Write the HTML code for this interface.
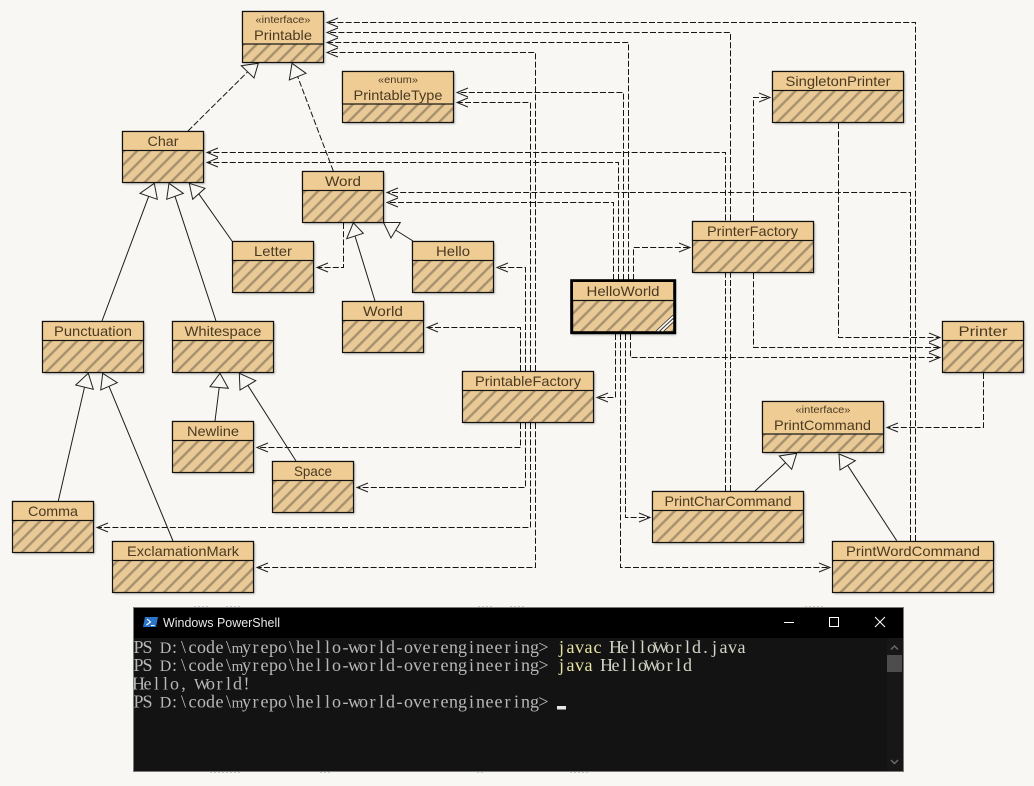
<!DOCTYPE html>
<html><head><meta charset="utf-8"><style>
html,body{margin:0;padding:0;background:#f8f7f3;width:1034px;height:786px;overflow:hidden}
svg{display:block;position:absolute;left:0;top:0}
.d{fill:none;stroke:#151515;stroke-width:1;stroke-dasharray:6 2.2}
.a{fill:none;stroke:#222;stroke-width:1}
.s{fill:none;stroke:#1c1c1c;stroke-width:1}
.t{fill:#f8f7f3;stroke:#222;stroke-width:1}
.b{fill:url(#h);stroke:#111;stroke-width:1.2}
.hd{fill:#efcc94;stroke:#111;stroke-width:1.2}
.l{font:14px "Liberation Sans",sans-serif;fill:#4a3a22;text-anchor:middle}
.st{font:10px "Liberation Sans",sans-serif;fill:#4a3a22;text-anchor:middle}
.sh{fill:#000;opacity:.28;filter:url(#bl)}
.c{font:18px "Liberation Serif",serif;fill:#b8b8b8;text-anchor:middle}
.n{font-size:16px}
.m{font-size:15px}
</style></head><body>
<svg width="1034" height="786" viewBox="0 0 1034 786" xmlns="http://www.w3.org/2000/svg">
<defs>
<pattern id="h" width="9.2" height="9.2" patternUnits="userSpaceOnUse" patternTransform="rotate(45)">
<rect width="9.2" height="9.2" fill="#e9ca97"/><rect x="0" width="2.5" height="9.2" fill="#a8926f"/>
</pattern>
<filter id="bl" x="-10%" y="-10%" width="120%" height="120%"><feGaussianBlur stdDeviation="1"/></filter>
</defs>
<rect width="1034" height="786" fill="#f8f7f3"/>

<path class="d" d="M915.5 541V22.5H328M730.5 491V32.5H328M628.5 280V42.5H328M535.5 371V52.5H328M623.5 280V92.5H458M530.5 371V102.5H458M910.5 541V192.5H388M613.5 280V202.5H388M725.5 491V152.5H208M618.5 280V162.5H208M633.5 280V247.5H689M525.5 371V267.5H498M520.5 371V327.5H428M520.5 423V447.5H258M525.5 423V487.5H358M530.5 423V527.5H98M535.5 423V567.5H258M615.5 334V397.5H598M620.5 334V567.5H829M625.5 334V517.5H649M630.5 334V357.5H939M838.5 123V337.5H939M753.5 273V347.5H939M753.5 221V97.5H769M983.5 373V427.5H888M343.5 223V267.5H318"/>
<path class="d" d="M188 131L247.7 71.8M333.3 171L297.7 76.7"/>
<path class="s" d="M102 321L148.7 196.3M216 321L175 196.3M232 241L198.8 193.8M58.3 501L84.5 387.2M173 541L109 386.3M215 421L219.2 387.5M296 461L247.8 385.3M755 491L785.5 462.7M896.7 540.7L847.6 465.3M413 241L395.5 230M375 301L355 236"/>

<path class="a" d="M338 18L327 22.5L338 27M338 28L327 32.5L338 37M338 38L327 42.5L338 47M338 48L327 52.5L338 57M468 88L457 92.5L468 97M468 98L457 102.5L468 107M398 188L387 192.5L398 197M398 198L387 202.5L398 207M218 148L207 152.5L218 157M218 158L207 162.5L218 167M508 263L497 267.5L508 272M438 323L427 327.5L438 332M328 263L317 267.5L328 272M268 443L257 447.5L268 452M368 483L357 487.5L368 492M108 523L97 527.5L108 532M268 563L257 567.5L268 572M608 393L597 397.5L608 402M898 423L887 427.5L898 432"/>
<path class="a" d="M679 243L690 247.5L679 252M759 93L770 97.5L759 102M639 513L650 517.5L639 522M819 563L830 567.5L819 572M929 333L940 337.5L929 342M929 343L940 347.5L929 352M929 353L940 357.5L929 362"/>

<polygon class="t" points="258.3,63.3 241.3,65.7 254,78"/>
<polygon class="t" points="292,63.3 306,73.3 289.3,80"/>
<polygon class="t" points="154.3,183.3 140,193.3 157.3,199.3"/>
<polygon class="t" points="169,183.3 166.7,199.3 183.3,193.3"/>
<polygon class="t" points="189.3,183.3 192.7,199.3 205,188.3"/>
<polygon class="t" points="88.3,373.3 75.7,385 93.3,389.3"/>
<polygon class="t" points="102.7,373.3 100.7,390 117.3,382.7"/>
<polygon class="t" points="220,373.3 210,386.7 228.3,388.3"/>
<polygon class="t" points="239.3,373.3 240,390 255.7,380.7"/>
<polygon class="t" points="383.5,222.5 400.3,222.5 391,238"/>
<polygon class="t" points="353.3,222.8 363.3,233.3 346.7,238.7"/>
<polygon class="t" points="796.7,453.3 779.3,456 791.7,469.3"/>
<polygon class="t" points="839,454 855.3,460.7 840,470"/>

<!-- boxes -->
<rect class="sh" x="244" y="13" width="81" height="51"/><rect class="b" x="242.5" y="11.5" width="81" height="51"/><rect class="hd" x="242.5" y="11.5" width="81" height="32.5"/>
<text class="st" x="283" y="23" textLength="55" lengthAdjust="spacingAndGlyphs">«interface»</text><text class="l" x="283" y="40" textLength="58" lengthAdjust="spacingAndGlyphs">Printable</text>

<rect class="sh" x="344" y="73" width="111" height="51"/><rect class="b" x="342.5" y="71.5" width="111" height="51"/><rect class="hd" x="342.5" y="71.5" width="111" height="32.5"/>
<text class="st" x="398" y="83" textLength="40" lengthAdjust="spacingAndGlyphs">«enum»</text><text class="l" x="398" y="100" textLength="89" lengthAdjust="spacingAndGlyphs">PrintableType</text>

<rect class="sh" x="774" y="73" width="131" height="51"/><rect class="b" x="772.5" y="71.5" width="131" height="51"/><rect class="hd" x="772.5" y="71.5" width="131" height="19"/>
<text class="l" x="838" y="86" textLength="105" lengthAdjust="spacingAndGlyphs">SingletonPrinter</text>

<rect class="sh" x="124" y="133" width="81" height="51"/><rect class="b" x="122.5" y="131.5" width="81" height="51"/><rect class="hd" x="122.5" y="131.5" width="81" height="19"/>
<text class="l" x="163" y="146" textLength="31" lengthAdjust="spacingAndGlyphs">Char</text>

<rect class="sh" x="304" y="173" width="81" height="51"/><rect class="b" x="302.5" y="171.5" width="81" height="51"/><rect class="hd" x="302.5" y="171.5" width="81" height="19"/>
<text class="l" x="343" y="186" textLength="36" lengthAdjust="spacingAndGlyphs">Word</text>

<rect class="sh" x="234" y="243" width="81" height="51"/><rect class="b" x="232.5" y="241.5" width="81" height="51"/><rect class="hd" x="232.5" y="241.5" width="81" height="19"/>
<text class="l" x="273" y="256" textLength="38" lengthAdjust="spacingAndGlyphs">Letter</text>

<rect class="sh" x="414" y="243" width="81" height="51"/><rect class="b" x="412.5" y="241.5" width="81" height="51"/><rect class="hd" x="412.5" y="241.5" width="81" height="19"/>
<text class="l" x="453" y="256" textLength="34" lengthAdjust="spacingAndGlyphs">Hello</text>

<rect class="sh" x="344" y="303" width="81" height="51"/><rect class="b" x="342.5" y="301.5" width="81" height="51"/><rect class="hd" x="342.5" y="301.5" width="81" height="19"/>
<text class="l" x="383" y="316" textLength="40" lengthAdjust="spacingAndGlyphs">World</text>

<rect class="sh" x="44" y="323" width="101" height="51"/><rect class="b" x="42.5" y="321.5" width="101" height="51"/><rect class="hd" x="42.5" y="321.5" width="101" height="19"/>
<text class="l" x="93" y="336" textLength="78" lengthAdjust="spacingAndGlyphs">Punctuation</text>

<rect class="sh" x="174" y="323" width="101" height="51"/><rect class="b" x="172.5" y="321.5" width="101" height="51"/><rect class="hd" x="172.5" y="321.5" width="101" height="19"/>
<text class="l" x="223" y="336" textLength="77" lengthAdjust="spacingAndGlyphs">Whitespace</text>

<rect class="sh" x="174" y="423" width="81" height="51"/><rect class="b" x="172.5" y="421.5" width="81" height="51"/><rect class="hd" x="172.5" y="421.5" width="81" height="19"/>
<text class="l" x="213" y="436" textLength="52" lengthAdjust="spacingAndGlyphs">Newline</text>

<rect class="sh" x="274" y="463" width="81" height="51"/><rect class="b" x="272.5" y="461.5" width="81" height="51"/><rect class="hd" x="272.5" y="461.5" width="81" height="19"/>
<text class="l" x="313" y="476" textLength="38" lengthAdjust="spacingAndGlyphs">Space</text>

<rect class="sh" x="14" y="503" width="81" height="51"/><rect class="b" x="12.5" y="501.5" width="81" height="51"/><rect class="hd" x="12.5" y="501.5" width="81" height="19"/>
<text class="l" x="53" y="516" textLength="50" lengthAdjust="spacingAndGlyphs">Comma</text>

<rect class="sh" x="114" y="543" width="141" height="51"/><rect class="b" x="112.5" y="541.5" width="141" height="51"/><rect class="hd" x="112.5" y="541.5" width="141" height="19"/>
<text class="l" x="183" y="556" textLength="112" lengthAdjust="spacingAndGlyphs">ExclamationMark</text>

<rect class="sh" x="464" y="373" width="131" height="51"/><rect class="b" x="462.5" y="371.5" width="131" height="51"/><rect class="hd" x="462.5" y="371.5" width="131" height="19"/>
<text class="l" x="528" y="386" textLength="106" lengthAdjust="spacingAndGlyphs">PrintableFactory</text>

<rect class="sh" x="694" y="223" width="121" height="51"/><rect class="b" x="692.5" y="221.5" width="121" height="51"/><rect class="hd" x="692.5" y="221.5" width="121" height="19"/>
<text class="l" x="752.5" y="236" textLength="91" lengthAdjust="spacingAndGlyphs">PrinterFactory</text>

<rect class="sh" x="944" y="323" width="81" height="51"/><rect class="b" x="942.5" y="321.5" width="81" height="51"/><rect class="hd" x="942.5" y="321.5" width="81" height="19"/>
<text class="l" x="983" y="336" textLength="49" lengthAdjust="spacingAndGlyphs">Printer</text>

<rect class="sh" x="764" y="403" width="121" height="51"/><rect class="b" x="762.5" y="401.5" width="121" height="51"/><rect class="hd" x="762.5" y="401.5" width="121" height="32.5"/>
<text class="st" x="823" y="413" textLength="55" lengthAdjust="spacingAndGlyphs">«interface»</text><text class="l" x="822.5" y="430" textLength="97" lengthAdjust="spacingAndGlyphs">PrintCommand</text>

<rect class="sh" x="654" y="493" width="151" height="51"/><rect class="b" x="652.5" y="491.5" width="151" height="51"/><rect class="hd" x="652.5" y="491.5" width="151" height="19"/>
<text class="l" x="728" y="506" textLength="127" lengthAdjust="spacingAndGlyphs">PrintCharCommand</text>

<rect class="sh" x="834" y="543" width="161" height="51"/><rect class="b" x="832.5" y="541.5" width="161" height="51"/><rect class="hd" x="832.5" y="541.5" width="161" height="19"/>
<text class="l" x="913" y="556" textLength="134" lengthAdjust="spacingAndGlyphs">PrintWordCommand</text>

<!-- HelloWorld selected -->
<rect class="sh" x="572" y="282" width="104" height="53"/>
<rect x="571.7" y="280.7" width="103" height="52" fill="url(#h)" stroke="#000" stroke-width="3"/>
<rect x="573" y="282" width="100" height="18.5" fill="#efcc94"/>
<path d="M573 300.5H673" stroke="#111" stroke-width="1.2"/>
<text class="l" x="623" y="296" textLength="73" lengthAdjust="spacingAndGlyphs">HelloWorld</text>
<path d="M657.5 331L673 316.5M661.5 331L673 320" stroke="#fff" stroke-width="1.6" fill="none"/>
<path d="M656 331L673 315M660 331L673 318.7M664 331L673 322.5" stroke="#222" stroke-width=".7" fill="none"/>

<!-- faint connector traces peeking around the terminal -->
<path d="M194 606.5H210M226 606.5H240M478 606.5H494M510 606.5H525M805 606.5H825M210 772.5H240M320 772.5H330M570 772.5H590M477 772.5H483" stroke="#ccc" stroke-width="1" stroke-dasharray="2 2" fill="none"/>

<!-- terminal -->
<rect x="133.5" y="607.5" width="770" height="164" fill="#131313" stroke="#7a7a7a" stroke-width="1"/>
<rect x="134" y="608" width="769" height="30" fill="#000"/>
<rect x="887" y="638" width="16" height="133" fill="#171717"/>
<rect x="887" y="655" width="15" height="17" fill="#4d4d4d"/>
<path d="M891 649.5L894.5 646L898 649.5M891 760L894.5 763.5L898 760" fill="none" stroke="#6a6a6a" stroke-width="1.5"/>
<polygon points="145,617 158,617 156,627 143,627" fill="#2a74c9"/>
<path d="M147 619L150.5 622L146.5 625M151 625.5H154.5" fill="none" stroke="#fff" stroke-width="1.1"/>
<text x="163" y="627" style="font:13px 'Liberation Sans',sans-serif;fill:#e8e8e8" textLength="117" lengthAdjust="spacingAndGlyphs">Windows PowerShell</text>
<path d="M784 622.5H794" stroke="#fff" stroke-width="1"/>
<rect x="829.5" y="617.5" width="9" height="9" fill="none" stroke="#fff" stroke-width="1"/>
<path d="M875 617L885 627M885 617L875 627" stroke="#fff" stroke-width="1" fill="none"/>

<text class="c" y="653" x="138.5 147.5 156.5 165.5 174.5 183.5 192.5 201.5 210.5 219.5 228.5 237.5 246.5 255.5 264.5 273.5 282.5 291.5 300.5 309.5 318.5 327.5 336.5 345.5 354.5 363.5 372.5 381.5 390.5 399.5 408.5 417.5 426.5 435.5 444.5 453.5 462.5 471.5 480.5 489.5 498.5 507.5 516.5 525.5 534.5 543.5 552.5 561.5 570.5 579.5 588.5 597.5 606.5 615.5 624.5 633.5 642.5 651.5 660.5 669.5 678.5 687.5 696.5 705.5 714.5 723.5 732.5 741.5">PS <tspan class="n">D</tspan>:\code\<tspan class="m">m</tspan>yrepo\hello-world-overengineering&gt; <tspan fill="#e8e2a0">javac</tspan> <tspan fill="#d6d6c6">Hello<tspan class="n">W</tspan>orld.java</tspan></text>
<text class="c" y="671" x="138.5 147.5 156.5 165.5 174.5 183.5 192.5 201.5 210.5 219.5 228.5 237.5 246.5 255.5 264.5 273.5 282.5 291.5 300.5 309.5 318.5 327.5 336.5 345.5 354.5 363.5 372.5 381.5 390.5 399.5 408.5 417.5 426.5 435.5 444.5 453.5 462.5 471.5 480.5 489.5 498.5 507.5 516.5 525.5 534.5 543.5 552.5 561.5 570.5 579.5 588.5 597.5 606.5 615.5 624.5 633.5 642.5 651.5 660.5 669.5 678.5 687.5">PS <tspan class="n">D</tspan>:\code\<tspan class="m">m</tspan>yrepo\hello-world-overengineering&gt; <tspan fill="#e8e2a0">java</tspan> <tspan fill="#d6d6c6">Hello<tspan class="n">W</tspan>orld</tspan></text>
<text class="c" y="689.5" x="138.5 147.5 156.5 165.5 174.5 183.5 192.5 201.5 210.5 219.5 228.5 237.5 246.5">Hello, <tspan class="n">W</tspan>orld!</text>
<text class="c" y="707.5" x="138.5 147.5 156.5 165.5 174.5 183.5 192.5 201.5 210.5 219.5 228.5 237.5 246.5 255.5 264.5 273.5 282.5 291.5 300.5 309.5 318.5 327.5 336.5 345.5 354.5 363.5 372.5 381.5 390.5 399.5 408.5 417.5 426.5 435.5 444.5 453.5 462.5 471.5 480.5 489.5 498.5 507.5 516.5 525.5 534.5 543.5">PS <tspan class="n">D</tspan>:\code\<tspan class="m">m</tspan>yrepo\hello-world-overengineering&gt;</text>
<rect x="557" y="706" width="9" height="3.5" fill="#e8e8e8"/>
</svg>
</body></html>
